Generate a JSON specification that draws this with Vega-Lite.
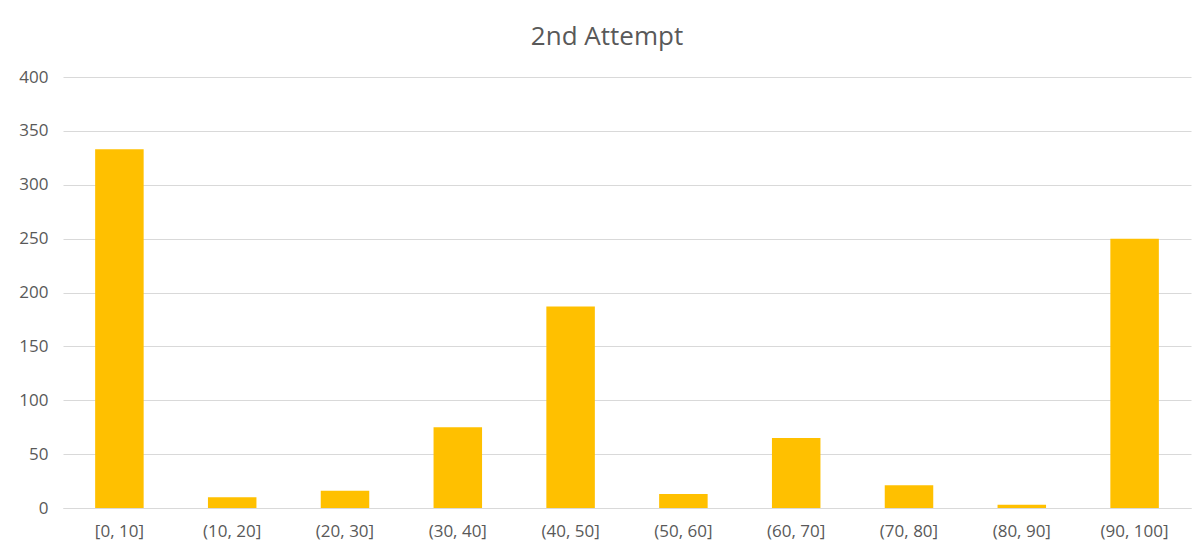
{
  "$schema": "https://vega.github.io/schema/vega-lite/v6.json",
  "width": 1128,
  "height": 431,
  "autosize": {"type": "none"},
  "padding": {"left": 63, "top": 77, "right": 9, "bottom": 49},
  "background": "white",
  "title": {
    "text": "2nd Attempt",
    "font": "Open Sans",
    "fontWeight": 400,
    "fontSize": 26,
    "color": "#595959",
    "anchor": "middle",
    "baseline": "alphabetic",
    "offset": -3,
    "dx": -20
  },
  "data": {
    "values": [
      {"bin": "[0, 10]", "count": 333},
      {"bin": "(10, 20]", "count": 10},
      {"bin": "(20, 30]", "count": 16},
      {"bin": "(30, 40]", "count": 75},
      {"bin": "(40, 50]", "count": 187},
      {"bin": "(50, 60]", "count": 13},
      {"bin": "(60, 70]", "count": 65},
      {"bin": "(70, 80]", "count": 21},
      {"bin": "(80, 90]", "count": 3},
      {"bin": "(90, 100]", "count": 250}
    ]
  },
  "mark": {"type": "bar", "color": "#FFC000"},
  "encoding": {
    "x": {
      "field": "bin",
      "type": "nominal",
      "sort": null,
      "title": null,
      "scale": {"paddingInner": 0.57, "paddingOuter": 0.285},
      "axis": {
        "labelAngle": 0,
        "labelFont": "Open Sans",
        "labelFontSize": 17,
        "labelColor": "#595959",
        "labelPadding": 15,
        "ticks": false,
        "domainColor": "#d9d9d9",
        "grid": false
      }
    },
    "y": {
      "field": "count",
      "type": "quantitative",
      "title": null,
      "scale": {"domain": [0, 400], "nice": false},
      "axis": {
        "values": [0, 50, 100, 150, 200, 250, 300, 350, 400],
        "labelFont": "Open Sans",
        "labelFontSize": 17,
        "labelColor": "#595959",
        "labelPadding": 15,
        "ticks": false,
        "domain": false,
        "gridColor": "#d9d9d9",
        "gridWidth": 1
      }
    }
  },
  "config": {"view": {"stroke": null}}
}
